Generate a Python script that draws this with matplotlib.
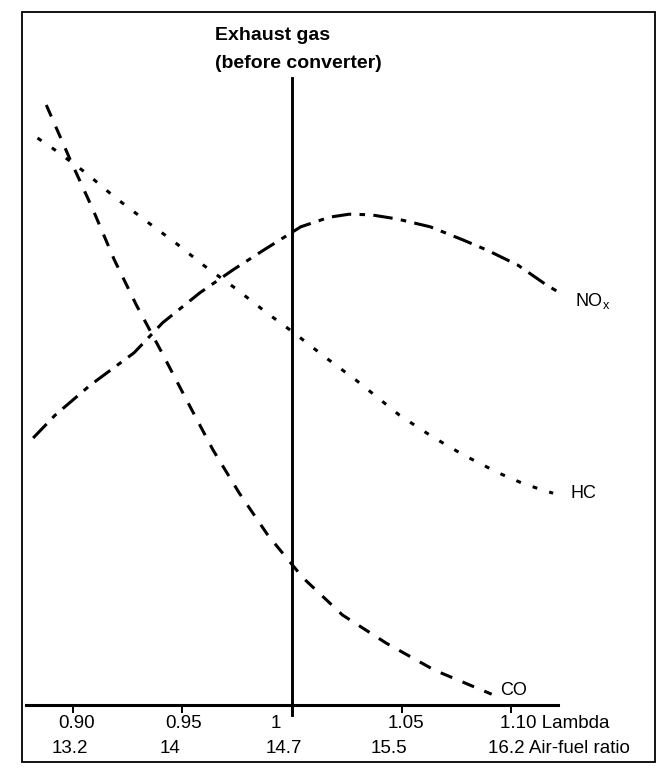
import matplotlib
matplotlib.use("Agg")
import matplotlib.pyplot as plt
from matplotlib.patches import Rectangle

plt.rcParams['font.family'] = ['Liberation Sans', 'DejaVu Sans']
plt.rcParams['mathtext.fontset'] = 'custom'
plt.rcParams['mathtext.rm'] = 'Liberation Sans'
plt.rcParams['lines.scale_dashes'] = False

# Lambda (x) vs relative concentration (y, arbitrary units)
co_lambda = [0.888, 0.899, 0.909, 0.919, 0.929, 0.940, 0.952, 0.964, 0.976,
             0.989, 1.005, 1.023, 1.043, 1.065, 1.091]
co_conc = [100.0, 90.8, 82.8, 74.2, 66.7, 59.2, 50.8, 42.5, 35.3,
           28.3, 21.2, 15.0, 10.3, 5.8, 1.8]

hc_lambda = [0.884, 0.892, 0.906, 0.919, 0.933, 0.947, 0.960, 0.974, 0.988,
             1.001, 1.015, 1.029, 1.049, 1.064, 1.078, 1.094, 1.106, 1.119]
hc_conc = [94.5, 92.5, 88.7, 84.7, 80.8, 77.0, 73.2, 69.5, 65.5,
           62.0, 58.0, 54.2, 48.3, 44.7, 41.7, 38.7, 36.8, 35.3]

nox_lambda = [0.882, 0.892, 0.908, 0.928, 0.941, 0.958, 0.973, 0.987, 1.004,
              1.017, 1.026, 1.036, 1.048, 1.063, 1.078, 1.089, 1.103, 1.116, 1.122]
nox_conc = [44.5, 48.3, 53.3, 58.7, 63.7, 68.7, 72.5, 75.8, 79.7,
            81.3, 81.8, 81.7, 81.0, 79.7, 77.5, 75.8, 73.3, 70.0, 68.7]

lambda_ticks = [0.90, 0.95, 1.00, 1.05, 1.10]
lambda_labels = ['0.90', '0.95', '1', '1.05', '1.10 Lambda']
afr_labels = ['13.2', '14', '14.7', '15.5', '16.2 Air-fuel ratio']
stoich_lambda = 1.0


def main():
    fig = plt.figure(figsize=(6.67, 7.69), dpi=100)

    # outer border of the scanned figure
    fig.add_artist(Rectangle((0.033, 0.009), 0.949, 0.975, transform=fig.transFigure,
                             fill=False, lw=1.3, color='black'))

    ax = fig.add_axes([0.039, 0.0832, 0.7976, 0.9168])
    ax.set_xlim(1 - 0.12124, 1 + 0.12124)
    ax.set_ylim(0, 117.5)
    for side in ['left', 'right', 'top']:
        ax.spines[side].set_visible(False)
    ax.spines['bottom'].set_linewidth(2.2)
    ax.set_yticks([])
    ax.set_xticks(lambda_ticks)
    ax.set_xticklabels([])
    ax.tick_params(axis='x', direction='out', length=6, width=1.4)

    lw = 2.2
    ax.plot(co_lambda, co_conc, color='black', lw=lw, dashes=(9, 8), clip_on=False)
    ax.plot(hc_lambda, hc_conc, color='black', lw=lw, dashes=(3.5, 9), clip_on=False)
    ax.plot(nox_lambda, nox_conc, color='black', lw=lw, dashes=(14, 6, 4, 6), clip_on=False)

    # stoichiometric line
    ax.axvline(stoich_lambda, ymin=-0.014, ymax=0.889, color='black', lw=2.1, clip_on=False)

    top = ax.get_ylim()[1]
    ax.annotate('Exhaust gas', xy=(stoich_lambda, top), xytext=(-77, -35),
                textcoords='offset pixels', ha='left', va='center',
                fontsize=14, fontweight='bold', annotation_clip=False)
    ax.annotate('(before converter)', xy=(stoich_lambda, top), xytext=(-77, -63),
                textcoords='offset pixels', ha='left', va='center',
                fontsize=14, fontweight='bold', annotation_clip=False)

    # curve labels
    ax.annotate('NO$_\\mathrm{x}$', xy=(nox_lambda[-1], nox_conc[-1]), xytext=(15, -8),
                textcoords='offset pixels', ha='left', va='center', fontsize=13,
                annotation_clip=False)
    ax.annotate('HC', xy=(hc_lambda[-1], hc_conc[-1]), xytext=(17, 0),
                textcoords='offset pixels', ha='left', va='center', fontsize=13,
                annotation_clip=False)
    ax.annotate('CO', xy=(co_lambda[-1], co_conc[-1]), xytext=(8, 4),
                textcoords='offset pixels', ha='left', va='center', fontsize=13,
                annotation_clip=False)

    # two rows of tick labels
    lam_dx = [4, 1, -16, 4, -11]
    afr_dx = [-3, -12, -8, -13, -23]
    for i, lam in enumerate(lambda_ticks):
        ha = 'left' if i == len(lambda_ticks) - 1 else 'center'
        ax.annotate(lambda_labels[i], xy=(lam, 0), xytext=(lam_dx[i], -18),
                    textcoords='offset pixels', ha=ha, va='center', fontsize=13.5,
                    annotation_clip=False)
        ax.annotate(afr_labels[i], xy=(lam, 0), xytext=(afr_dx[i], -43),
                    textcoords='offset pixels', ha=ha, va='center', fontsize=13.5,
                    annotation_clip=False)

    fig.savefig('out.png', dpi=100)


if __name__ == "__main__":
    main()
